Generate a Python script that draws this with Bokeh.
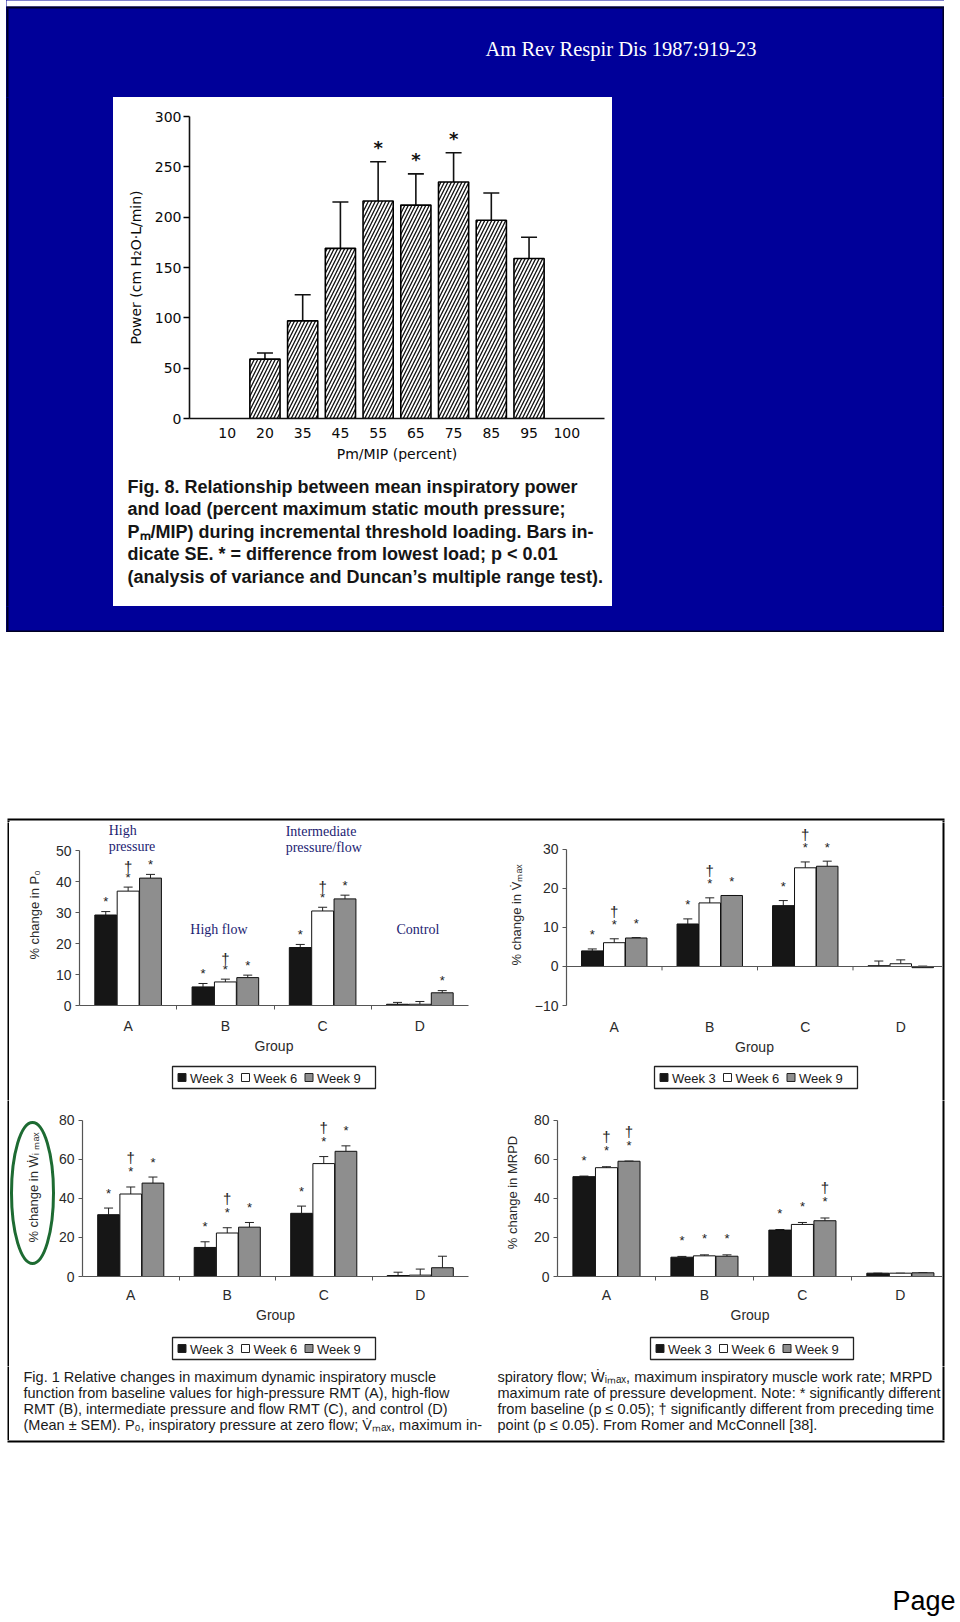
import math
from bokeh.plotting import figure
from bokeh.layouts import column, row
from bokeh.models import (Range1d, FixedTicker, Whisker, TeeHead, ColumnDataSource,
                          Span, Label)
from bokeh.core.properties import value
from bokeh.embed import file_html
from bokeh.resources import INLINE

# ---------------- data: Fig. 8 (top) ----------------
load_labels = ["10", "20", "35", "45", "55", "65", "75", "85", "95", "100"]
power_mean = [0, 59, 97, 169, 216, 212, 235, 197, 159, 0]
power_se = [0, 6, 26, 46, 39, 31, 29, 27, 21, 0]
power_sig = ["", "", "", "", "*", "*", "*", "", "", ""]

# ---------------- data: Fig. 1 (bottom) ----------------
groups = ["A", "B", "C", "D"]
weeks = ["Week 3", "Week 6", "Week 9"]
week_colors = ["#161616", "#ffffff", "#8e8e8e"]

p0_week3 = [29.2, 6.0, 18.7, 0.4]
p0_week6 = [36.9, 7.6, 30.5, 0.4]
p0_week9 = [41.1, 9.0, 34.4, 4.1]
p0_sem3 = [1.1, 1.1, 1.0, 0.6]
p0_sem6 = [1.3, 0.9, 1.2, 0.9]
p0_sem9 = [1.2, 0.8, 1.2, 0.7]
p0_sig3 = ["*", "*", "*", ""]
p0_sig6 = ["*†", "*†", "*†", ""]
p0_sig9 = ["*", "*", "*", "*"]

vmax_week3 = [4.0, 10.9, 15.6, 0.2]
vmax_week6 = [6.1, 16.3, 25.3, 0.7]
vmax_week9 = [7.3, 18.2, 25.7, -0.3]
vmax_sem3 = [0.5, 1.3, 1.3, 1.2]
vmax_sem6 = [1.0, 1.3, 1.5, 1.0]
vmax_sem9 = [0.1, 0.0, 1.3, 0.4]
vmax_sig3 = ["*", "*", "*", ""]
vmax_sig6 = ["*†", "*†", "*†", ""]
vmax_sig9 = ["*", "*", "*", ""]

wimax_week3 = [31.7, 14.9, 32.4, 0.5]
wimax_week6 = [42.3, 22.3, 57.9, 0.7]
wimax_week9 = [47.9, 25.3, 64.2, 4.5]
wimax_sem3 = [3.4, 2.9, 3.7, 1.7]
wimax_sem6 = [3.6, 2.7, 3.6, 3.1]
wimax_sem9 = [3.1, 2.4, 2.8, 5.9]
wimax_sig3 = ["*", "*", "*", ""]
wimax_sig6 = ["*†", "*†", "*†", ""]
wimax_sig9 = ["*", "*", "*", ""]

mrpd_week3 = [51.2, 9.9, 23.8, 1.7]
mrpd_week6 = [55.8, 10.6, 26.7, 1.7]
mrpd_week9 = [59.1, 10.4, 28.6, 1.9]
mrpd_sem3 = [0.3, 0.4, 0.3, 0.0]
mrpd_sem6 = [0.5, 0.5, 1.0, 0.0]
mrpd_sem9 = [0.1, 0.7, 1.4, 0.0]
mrpd_sig3 = ["*", "*", "*", ""]
mrpd_sig6 = ["*†", "*", "*", ""]
mrpd_sig9 = ["*†", "*", "*†", ""]

# ---------------- styling ----------------
BLUE = "#000099"
NAVY = "#1c1c72"
SANS = "Liberation Sans"
SERIF = "Liberation Serif"
AX = "#555555"

# page background pieces, later ones on top: (left, right, top, bottom, colour)
BG_LAYERS = [
    (7, 943, 7, 631, BLUE),
    (113, 612, 97, 606, "white"),
    (6, 944, 6, 8, "#000022"), (6, 944, 630, 632, "#000022"),
    (6, 8, 6, 632, "#000022"), (942, 944, 6, 632, "#000022"),
    (7, 944, 818, 820, "black"), (7, 944, 1440, 1442, "black"),
    (7, 9, 818, 1442, "black"), (942, 944, 818, 1442, "black"),
]


def bg_cells(x0, y0, x1, y1):
    """Split a tile into non-overlapping rectangles of one background colour each."""
    xs = sorted({x0, x1} | {v for (l, r, t, b, c) in BG_LAYERS for v in (l, r) if x0 < v < x1})
    ys = sorted({y0, y1} | {v for (l, r, t, b, c) in BG_LAYERS for v in (t, b) if y0 < v < y1})
    rows = []
    for j in range(len(ys) - 1):
        cy = (ys[j] + ys[j + 1]) / 2
        runs = []
        for i in range(len(xs) - 1):
            cx = (xs[i] + xs[i + 1]) / 2
            col = "white"
            for (l, r, t, b, c) in BG_LAYERS:
                if l <= cx <= r and t <= cy <= b:
                    col = c
            if runs and runs[-1][2] == col:
                runs[-1][1] = xs[i + 1]
            else:
                runs.append([xs[i], xs[i + 1], col])
        rows.append((ys[j], ys[j + 1], runs))
    rects = []
    open_r = {}
    for (ta, ba, runs) in rows:
        new_open = {}
        for (l, r, c) in runs:
            key = (l, r, c)
            if key in open_r:
                rect = open_r[key]
                rect[3] = ba
            else:
                rect = [l, r, ta, ba, c]
                rects.append(rect)
            new_open[key] = rect
        open_r = new_open
    return rects


def canvas(x0, y0, w, h):
    """A plain drawing tile whose data coordinates are page pixels."""
    x1, y1 = x0 + w, y0 + h
    rects = bg_cells(x0, y0, x1, y1)
    area = {}
    for (l, r, t, b, c) in rects:
        area[c] = area.get(c, 0) + (r - l) * (b - t)
    base = max(area, key=area.get)
    p = figure(width=w, height=h, x_range=Range1d(x0, x1), y_range=Range1d(y1, y0),
               output_backend="svg", toolbar_location=None, title=None,
               x_axis_type=None, y_axis_type=None, min_border=0,
               outline_line_color=None, background_fill_color=base,
               border_fill_color=base)
    L, R, T, B, C = [], [], [], [], []
    for (l, r, t, b, c) in rects:
        if c == base:
            continue
        L.append(l if l > x0 else x0 - 3)
        R.append(r if r < x1 else x1 + 3)
        T.append(t if t > y0 else y0 - 3)
        B.append(b if b < y1 else y1 + 3)
        C.append(c)
    if L:
        p.quad(left=L, right=R, top=T, bottom=B, fill_color=C, line_color=None)
    return p


def wrap(f):
    return column(f)


def txt(p, x, y, s, size, font=SANS, color="#111111", align="left",
        baseline="middle", angle=0.0, style="normal"):
    p.text(x=[x], y=[y], text=[s], text_font=value(font), text_font_size=size,
           text_color=color, text_align=align, text_baseline=baseline, angle=angle,
           text_font_style=style)


# ================= top slide =================
r1 = canvas(6, 0, 938, 97)
txt(r1, 485, 48, "Am Rev Respir Dis 1987:919-23", "20.5px", font=SERIF, color="white")

left_blue = canvas(6, 97, 107, 509)
right_blue = canvas(612, 97, 332, 509)

pt = figure(width=499, height=378, x_range=Range1d(-1, 10), y_range=Range1d(0, 300),
            output_backend="svg", toolbar_location=None, title=None,
            outline_line_color=None, background_fill_color="white",
            border_fill_color="white")
pt.min_border_left = 76
pt.min_border_right = 8
pt.min_border_top = 19
pt.min_border_bottom = 57
pt.grid.visible = False

idx = [i for i, v in enumerate(power_mean) if v > 0]
src_top = ColumnDataSource(dict(
    x=idx,
    top=[power_mean[i] for i in idx],
    up=[power_mean[i] + power_se[i] for i in idx],
))
pt.vbar(x="x", top="top", bottom=0, width=0.8, source=src_top, fill_color="white",
        line_color="black", line_width=1.6, hatch_pattern="/", hatch_color="#111111",
        hatch_weight=1.3, hatch_scale=7)
pt.add_layout(Whisker(source=src_top, base="x", upper="up", lower="top",
                      upper_head=TeeHead(size=16, line_color="#111111", line_width=1.6),
                      lower_head=None, line_color="#111111", line_width=1.6))
sx = [i for i in idx if power_sig[i]]
pt.text(x=sx, y=[power_mean[i] + power_se[i] for i in sx], text=[power_sig[i] for i in sx],
        y_offset=-14, text_align="center", text_baseline="middle",
        text_font=value("DejaVu Sans"), text_font_size="18px", text_font_style="bold",
        text_color="#111111")

pt.xaxis.ticker = FixedTicker(ticks=list(range(len(load_labels))))
pt.xaxis.major_label_overrides = {i: lab for i, lab in enumerate(load_labels)}
pt.xaxis.major_tick_line_color = None
pt.xaxis.minor_tick_line_color = None
pt.xaxis.major_tick_out = 0
pt.xaxis.major_label_standoff = 9
pt.xaxis.axis_label = "Pm/MIP (percent)"
pt.xaxis.axis_label_standoff = 5
pt.yaxis.ticker = FixedTicker(ticks=[0, 50, 100, 150, 200, 250, 300])
pt.yaxis.major_tick_out = 6
pt.yaxis.major_tick_in = 0
pt.yaxis.minor_tick_line_color = None
pt.yaxis.major_label_standoff = 2
pt.yaxis.axis_label = "Power (cm H₂O·L/min)"
pt.yaxis.axis_label_standoff = 8
for ax in pt.axis:
    ax.axis_line_color = "#111111"
    ax.axis_line_width = 1.6
    ax.major_tick_line_width = 1.6
    ax.major_label_text_font = "DejaVu Sans"
    ax.major_label_text_font_size = "14px"
    ax.major_label_text_color = "#0a0a0a"
    ax.axis_label_text_font = "DejaVu Sans"
    ax.axis_label_text_font_size = "14px"
    ax.axis_label_text_font_style = "normal"
    ax.axis_label_text_color = "#0a0a0a"

cap_top = canvas(113, 475, 499, 131)
cap_lines = [
    "Fig. 8.  Relationship between mean inspiratory power",
    "and load (percent maximum static mouth pressure;",
    "Pₘ/MIP) during incremental threshold loading. Bars in-",
    "dicate SE. *  =  difference from lowest load; p < 0.01",
    "(analysis of variance and Duncan’s multiple range test).",
]
for k, line in enumerate(cap_lines):
    txt(cap_top, 127, 486 + k * 22.6, line, "18px", color="#151515", style="bold")

r3a = canvas(6, 606, 938, 26)
margin_left = canvas(0, 0, 6, 632)
margin_right = canvas(944, 0, 16, 632)
r3b = canvas(0, 632, 960, 190)


# ================= bottom figure =================
def bar_chart(w, h, y_start, y_end, bounds, yticks, means, sems, sigs, ylabel,
              mbl, mbr, mbt, mbb, x_end, star_off, dag_off, xl_standoff,
              axl_standoff, yl_standoff, zero_line=False):
    p = figure(width=w, height=h, x_range=Range1d(0, x_end), y_range=Range1d(y_start, y_end),
               output_backend="svg", toolbar_location=None, title=None,
               outline_line_color=None, background_fill_color="white",
               border_fill_color="white")
    p.min_border_left = mbl
    p.min_border_right = mbr
    p.min_border_top = mbt
    p.min_border_bottom = mbb
    p.grid.visible = False
    offs = [-0.23, 0.0, 0.23]
    for k in range(3):
        xs = [i + 0.5 + offs[k] for i in range(len(groups))]
        ups = [m + s for m, s in zip(means[k], sems[k])]
        src = ColumnDataSource(dict(x=xs, top=means[k], up=ups))
        p.vbar(x="x", top="top", bottom=0, width=0.225, source=src,
               fill_color=week_colors[k], line_color="#111111", line_width=1)
        p.add_layout(Whisker(source=src, base="x", upper="up", lower="top",
                             upper_head=TeeHead(size=9, line_color="#222222", line_width=1),
                             lower_head=None, line_color="#222222", line_width=1))
        st = [(x, u) for x, u, s in zip(xs, ups, sigs[k]) if "*" in s]
        dg = [(x, u) for x, u, s in zip(xs, ups, sigs[k]) if "†" in s]
        if st:
            p.text(x=[a for a, b in st], y=[b for a, b in st], text=["*"] * len(st),
                   y_offset=-star_off, text_align="center", text_baseline="middle",
                   text_font=value(SANS), text_font_size="13px", text_color="#222222")
        if dg:
            p.text(x=[a for a, b in dg], y=[b for a, b in dg], text=["†"] * len(dg),
                   y_offset=-dag_off, text_align="center", text_baseline="middle",
                   text_font=value(SANS), text_font_size="15px", text_color="#222222")
    p.xaxis.ticker = FixedTicker(ticks=[i + 0.5 for i in range(len(groups))],
                                 minor_ticks=[float(i) for i in range(1, len(groups))])
    p.xaxis.major_label_overrides = {i + 0.5: g for i, g in enumerate(groups)}
    p.xaxis.major_tick_out = 0
    p.xaxis.minor_tick_in = 0
    p.xaxis.minor_tick_out = 4
    p.xaxis.minor_tick_line_color = AX
    p.xaxis.major_label_standoff = xl_standoff
    p.xaxis.axis_label = "Group"
    p.xaxis.axis_label_standoff = axl_standoff
    p.yaxis.ticker = FixedTicker(ticks=yticks)
    p.yaxis.major_label_overrides = {t: ("−" + str(-t) if t < 0 else str(t)) for t in yticks}
    p.yaxis.bounds = bounds
    p.yaxis.major_tick_out = 4
    p.yaxis.major_tick_in = 0
    p.yaxis.minor_tick_line_color = None
    p.yaxis.major_label_standoff = 4
    if ylabel:
        p.yaxis.axis_label = ylabel
        p.yaxis.axis_label_standoff = yl_standoff
    for ax in p.axis:
        ax.axis_line_color = AX
        ax.axis_line_width = 1.2
        ax.major_label_text_font = SANS
        ax.major_label_text_font_size = "14px"
        ax.major_label_text_color = "#2a2a2a"
        ax.axis_label_text_font = SANS
        ax.axis_label_text_font_size = "14px"
        ax.axis_label_text_font_style = "normal"
        ax.axis_label_text_color = "#2a2a2a"
    p.xaxis.major_tick_line_color = None
    p.yaxis.major_tick_line_color = AX
    p.yaxis.axis_label_text_font_size = "13px"
    if zero_line:
        p.xaxis.axis_line_color = None
        p.xaxis.minor_tick_line_color = None
        p.add_layout(Span(location=0, dimension="width", line_color=AX, line_width=1.2))
        p.segment(x0=[float(i) for i in range(1, len(groups))],
                  x1=[float(i) for i in range(1, len(groups))],
                  y0=[0] * (len(groups) - 1), y1=[-1.0] * (len(groups) - 1),
                  line_color=AX, line_width=1)
    return p


def legend_canvas(x0, y0, w, h, bx, by):
    p = canvas(x0, y0, w, h)
    p.quad(left=bx, right=bx + 203, top=by, bottom=by + 22, fill_color="white",
           line_color="#222222", line_width=1.3)
    for k, (name, col) in enumerate(zip(weeks, week_colors)):
        sx = bx + 5.5 + k * 63.5
        p.quad(left=sx, right=sx + 8, top=by + 7, bottom=by + 15, fill_color=col,
               line_color="#222222", line_width=1)
        txt(p, sx + 12, by + 11.5, name, "13px", color="#1a1a1a")
    return p


p0 = bar_chart(479, 240, 0, 58.4, (0, 50), [0, 10, 20, 30, 40, 50],
               [p0_week3, p0_week6, p0_week9], [p0_sem3, p0_sem6, p0_sem9],
               [p0_sig3, p0_sig6, p0_sig9], "% change in P₀",
               70, 20, 2, 57, 4.0, 10, 21, 8, 1, 11)
for (gx, gy, s) in [(0.30, 56.6, "High"), (0.30, 51.2, "pressure"),
                    (1.14, 24.5, "High flow"),
                    (2.12, 56.2, "Intermediate"), (2.12, 50.9, "pressure/flow"),
                    (3.26, 24.5, "Control")]:
    p0.add_layout(Label(x=gx, y=gy, text=s, text_font=SERIF, text_font_size="14px",
                        text_color=NAVY, text_baseline="middle"))

vmax = bar_chart(454, 240, -10, 36.4, (-10, 30), [-10, 0, 10, 20, 30],
                 [vmax_week3, vmax_week6, vmax_week9], [vmax_sem3, vmax_sem6, vmax_sem9],
                 [vmax_sig3, vmax_sig6, vmax_sig9], "% change in V\u0307ₘₐₓ",
                 78, 0, 2, 57, 3.937, 14, 27, 9, 1, 8, zero_line=True)

wimax = bar_chart(433, 230, 0, 86.15, (0, 80), [0, 20, 40, 60, 80],
                  [wimax_week3, wimax_week6, wimax_week9], [wimax_sem3, wimax_sem6, wimax_sem9],
                  [wimax_sig3, wimax_sig6, wimax_sig9], None,
                  24, 20, 8, 54, 4.0, 15, 29, 6, 1, 10)

mrpd = bar_chart(454, 230, 0, 86.15, (0, 80), [0, 20, 40, 60, 80],
                 [mrpd_week3, mrpd_week6, mrpd_week9], [mrpd_sem3, mrpd_sem6, mrpd_sem9],
                 [mrpd_sig3, mrpd_sig6, mrpd_sig9], "% change in MRPD",
                 69, 0, 8, 54, 3.93, 16, 30, 6, 1, 11)

ell = canvas(9, 1100, 46, 230)
ell.ellipse(x=[32], y=[1192.5], width=[42], height=[141], fill_color=None,
            line_color="#1d6b32", line_width=3)
txt(ell, 33, 1187, "% change in Ẇᵢ ₘₐₓ", "13px", color="#2a2a2a", align="center",
    angle=math.pi / 2)

leg_p0 = legend_canvas(9, 1062, 479, 38, 172, 1066)
leg_vmax = legend_canvas(488, 1062, 454, 38, 654, 1066)
leg_wimax = legend_canvas(9, 1330, 479, 36, 172, 1337)
leg_mrpd = legend_canvas(488, 1330, 454, 36, 650, 1337)

cap_bot = canvas(9, 1366, 933, 74)
cap_left = [
    "Fig. 1  Relative changes in maximum dynamic inspiratory muscle",
    "function from baseline values for high-pressure RMT (A), high-flow",
    "RMT (B), intermediate pressure and flow RMT (C), and control (D)",
    "(Mean ± SEM). P₀, inspiratory pressure at zero flow; V\u0307ₘₐₓ, maximum in-",
]
cap_right = [
    "spiratory flow; Ẇᵢₘₐₓ, maximum inspiratory muscle work rate; MRPD",
    "maximum rate of pressure development. Note: * significantly different",
    "from baseline (p ≤ 0.05); † significantly different from preceding time",
    "point (p ≤ 0.05). From Romer and McConnell [38].",
]
for k, line in enumerate(cap_left):
    txt(cap_bot, 23, 1376 + k * 16.2, line, "14.5px", color="#1a1a1a")
for k, line in enumerate(cap_right):
    txt(cap_bot, 497, 1376 + k * 16.2, line, "14.5px", color="#1a1a1a")

r_last = canvas(0, 1440, 960, 182)
txt(r_last, 892, 1600, "Page", "27px", color="#000000")

WHITE_BG = {"background-color": "white"}
BLUE_BG = {"background-color": BLUE}

blue_inner = column(
    wrap(r1),
    row(wrap(left_blue), column(wrap(pt), wrap(cap_top), styles=WHITE_BG),
        wrap(right_blue), styles=BLUE_BG),
    wrap(r3a),
    styles=BLUE_BG,
)
top_sec = row(wrap(margin_left), blue_inner, wrap(margin_right), styles=WHITE_BG)
bot_sec = column(
    wrap(r3b),
    row(wrap(canvas(0, 822, 9, 278)), column(wrap(p0), wrap(leg_p0)),
        column(wrap(vmax), wrap(leg_vmax)), wrap(canvas(942, 822, 18, 278)),
        styles=WHITE_BG),
    row(wrap(canvas(0, 1100, 9, 266)),
        column(row(wrap(ell), wrap(wimax)), wrap(leg_wimax)),
        column(wrap(mrpd), wrap(leg_mrpd)), wrap(canvas(942, 1100, 18, 266)),
        styles=WHITE_BG),
    row(wrap(canvas(0, 1366, 9, 74)), wrap(cap_bot), wrap(canvas(942, 1366, 18, 74)),
        styles=WHITE_BG),
    wrap(r_last),
    styles=WHITE_BG,
)
layout = column(top_sec, bot_sec, styles=WHITE_BG)

open("out.html", "w").write(file_html(layout, INLINE))
